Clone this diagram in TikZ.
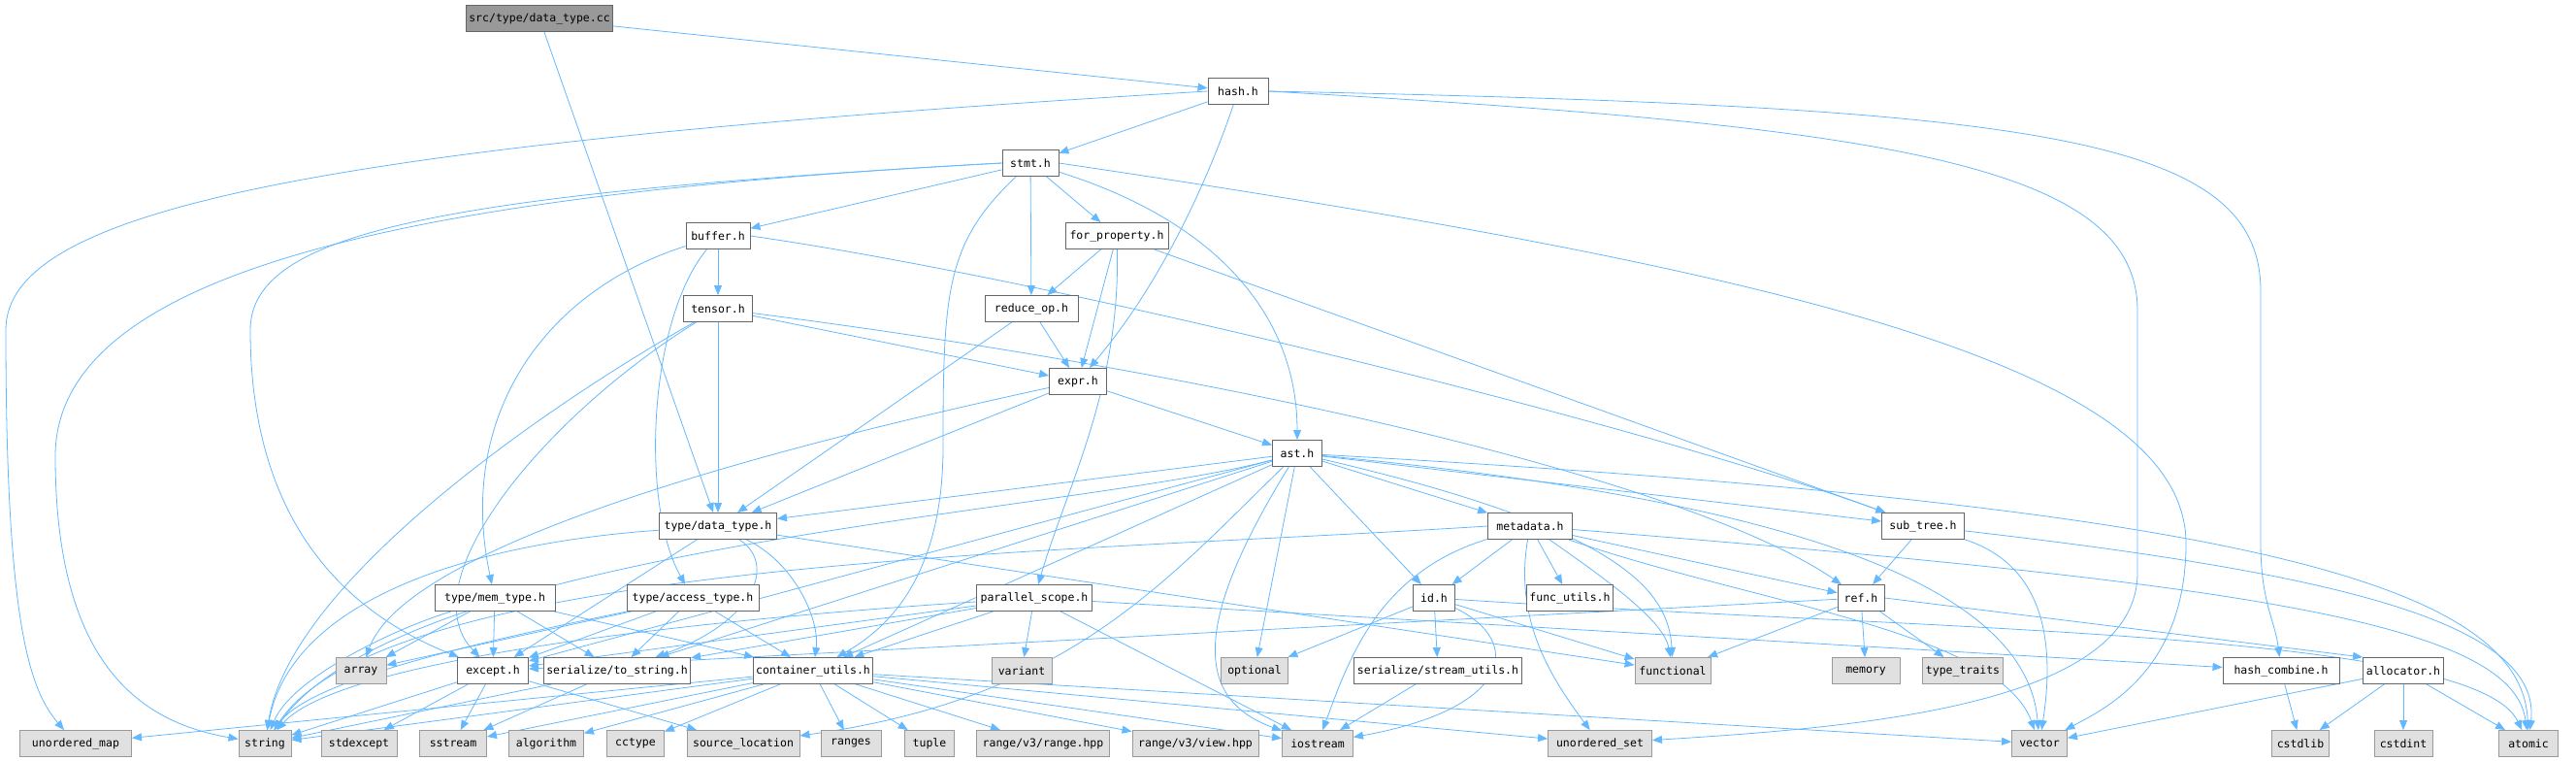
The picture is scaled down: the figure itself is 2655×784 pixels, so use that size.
\documentclass[tikz,border=0pt]{standalone}
\usepackage{fontspec}
\newfontfamily\doxfont{DejaVu Sans Mono}
\usetikzlibrary{arrows.meta, backgrounds}

\definecolor{edgeblue}{HTML}{63B8FF}
\definecolor{boxline}{HTML}{666666}
\definecolor{sysline}{HTML}{999999}
\definecolor{sysfill}{HTML}{E0E0E0}
\definecolor{rootfill}{HTML}{999999}

\tikzset{
    file/.style={draw=boxline, fill=white, line width=0.9pt, minimum height=27pt,
        inner xsep=3pt, inner ysep=0pt, font=\doxfont\fontsize{11.5}{13}\selectfont},
    sysfile/.style={file, draw=sysline, fill=sysfill},
    rootfile/.style={file, fill=rootfill},
    dep/.style={draw=edgeblue, line width=0.8pt, -{Triangle[length=10pt,width=8pt]}}
}

\begin{document}
\begin{tikzpicture}[x=1pt, y=-1pt]
    \useasboundingbox (0,0) rectangle (2655,784);
    % Project headers
    \node[rootfile, minimum width=148pt] (cc) at (556,19) {src/type/data\_type.cc};
    \node[file, minimum width=62pt] (hash) at (1276,94) {hash.h};
    \node[file, minimum width=58pt] (stmt) at (1062,168) {stmt.h};
    \node[file, minimum width=66pt] (buffer) at (740,243) {buffer.h};
    \node[file, minimum width=106pt] (forp) at (1151,243) {for\_property.h};
    \node[file, minimum width=71pt] (tensor) at (740,318) {tensor.h};
    \node[file, minimum width=96pt] (reduce) at (1063,318) {reduce\_op.h};
    \node[file, minimum width=59pt] (expr) at (1111,393) {expr.h};
    \node[file, minimum width=51pt] (ast) at (1337,467) {ast.h};
    \node[file, minimum width=121pt] (dtype) at (740,542) {type/data\_type.h};
    \node[file, minimum width=87pt] (metadata) at (1577,542) {metadata.h};
    \node[file, minimum width=85pt] (subtree) at (1982,542) {sub\_tree.h};
    \node[file, minimum width=124pt] (memtype) at (510,616) {type/mem\_type.h};
    \node[file, minimum width=136pt] (acctype) at (714,616) {type/access\_type.h};
    \node[file, minimum width=119pt] (pscope) at (1066,616) {parallel\_scope.h};
    \node[file, minimum width=43pt] (idh) at (1478,616) {id.h};
    \node[file, minimum width=89pt] (funcutils) at (1618,616) {func\_utils.h};
    \node[file, minimum width=48pt] (ref) at (1918,616) {ref.h};
    \node[file, minimum width=73pt] (except) at (508,691) {except.h};
    \node[file, minimum width=136pt] (tostring) at (636,691) {serialize/to\_string.h};
    \node[file, minimum width=119pt] (cutils) at (838,691) {container\_utils.h};
    \node[file, minimum width=158pt] (streamutils) at (1482,691) {serialize/stream\_utils.h};
    \node[file, minimum width=120pt] (hcomb) at (2351,691) {hash\_combine.h};
    \node[file, minimum width=83pt] (alloc) at (2477,691) {allocator.h};
    % System headers
    \node[sysfile, minimum width=52pt] (array) at (372,691) {array};
    \node[sysfile, minimum width=62pt] (variant) at (1053,691) {variant};
    \node[sysfile, minimum width=69pt] (optional) at (1293,691) {optional};
    \node[sysfile, minimum width=78pt] (functional) at (1724,691) {functional};
    \node[sysfile, minimum width=70pt] (memory) at (1923,691) {memory};
    \node[sysfile, minimum width=82pt] (typetraits) at (2023,691) {type\_traits};
    \node[sysfile, minimum width=115pt] (umap) at (78,766) {unordered\_map};
    \node[sysfile, minimum width=54pt] (string) at (273,766) {string};
    \node[sysfile, minimum width=78pt] (stdexcept) at (370,766) {stdexcept};
    \node[sysfile, minimum width=69pt] (sstream) at (467,766) {sstream};
    \node[sysfile, minimum width=77pt] (algorithm) at (563,766) {algorithm};
    \node[sysfile, minimum width=59pt] (cctype) at (655,766) {cctype};
    \node[sysfile, minimum width=116pt] (srcloc) at (766,766) {source\_location};
    \node[sysfile, minimum width=62pt] (ranges) at (877,766) {ranges};
    \node[sysfile, minimum width=51pt] (tuple) at (958,766) {tuple};
    \node[sysfile, minimum width=137pt] (rangehpp) at (1075,766) {range/v3/range.hpp};
    \node[sysfile, minimum width=130pt] (viewhpp) at (1232,766) {range/v3/view.hpp};
    \node[sysfile, minimum width=73pt] (iostream) at (1358,766) {iostream};
    \node[sysfile, minimum width=107pt] (uset) at (1649,766) {unordered\_set};
    \node[sysfile, minimum width=57pt] (vector) at (2102,766) {vector};
    \node[sysfile, minimum width=59pt] (cstdlib) at (2371,766) {cstdlib};
    \node[sysfile, minimum width=60pt] (cstdint) at (2477,766) {cstdint};
    \node[sysfile, minimum width=61pt] (atomic) at (2606,766) {atomic};

    \begin{scope}[on background layer]
    % Straight includes
    \foreach \s/\t in {cc/hash, cc/dtype, hash/stmt, stmt/buffer, stmt/reduce, stmt/forp,
        forp/reduce, forp/expr, forp/subtree, reduce/expr, reduce/dtype,
        buffer/tensor, tensor/dtype, tensor/expr,
        expr/ast, expr/dtype, ast/dtype, ast/except, ast/tostring, ast/cutils,
        ast/optional, ast/idh, ast/metadata, ast/subtree,
        metadata/idh, metadata/funcutils, metadata/ref, subtree/ref,
        memtype/array, memtype/except, memtype/tostring, memtype/cutils,
        acctype/array, acctype/except, acctype/tostring, acctype/cutils,
        dtype/except, dtype/functional,
        pscope/variant, pscope/iostream, pscope/cutils, pscope/except, pscope/tostring, pscope/hcomb,
        idh/optional, idh/streamutils, idh/functional, streamutils/iostream,
        ref/memory, ref/typetraits, ref/except, ref/functional,
        alloc/vector, alloc/cstdlib, alloc/cstdint, alloc/atomic, hcomb/cstdlib,
        except/string, except/stdexcept, except/sstream, except/srcloc,
        tostring/sstream, tostring/string,
        cutils/umap, cutils/string, cutils/sstream, cutils/algorithm, cutils/cctype,
        cutils/ranges, cutils/tuple, cutils/rangehpp, cutils/viewhpp, cutils/iostream,
        cutils/uset, cutils/vector}
    {
        \draw[dep] (\s) -- (\t);
    }
    \draw[dep] (ref.east) -- (alloc.north west);

    % Long arcs from hash.h
    \draw[dep] (hash.west) .. controls (300,150) and (6,220) .. (6,340) .. controls (6,640) and (30,710) .. (umap);
    \draw[dep] (hash.east) .. controls (1950,130) and (2203,170) .. (2203,320) -- (2203,590) .. controls (2203,730) and (1900,750) .. (uset);
    \draw[dep] (hash.east) .. controls (2100,110) and (2330,140) .. (2330,300) -- (2330,560) .. controls (2330,620) and (2345,640) .. (hcomb);
    \draw[dep] (hash) .. controls (1240,200) and (1190,300) .. (expr);

    % stmt.h
    \draw[dep] (stmt.west) .. controls (420,200) and (57,280) .. (57,470) .. controls (57,690) and (150,745) .. (string);
    \draw[dep] (stmt.west) .. controls (450,200) and (258,240) .. (258,340) .. controls (258,560) and (380,640) .. (except);
    \draw[dep] (stmt) .. controls (975,250) and (972,300) .. (972,460) .. controls (972,600) and (910,650) .. (cutils);
    \draw[dep] (stmt) .. controls (1260,230) and (1337,330) .. (ast);
    \draw[dep] (stmt.east) .. controls (1850,280) and (2253,380) .. (2253,560) .. controls (2253,690) and (2170,730) .. (vector);

    % for_property.h, buffer.h, tensor.h, expr.h
    \draw[dep] (forp) .. controls (1155,400) and (1100,500) .. (pscope);
    \draw[dep] (buffer.east) .. controls (1100,290) and (1700,440) .. (subtree);
    \draw[dep] (buffer) .. controls (560,300) and (470,430) .. (memtype);
    \draw[dep] (buffer) .. controls (668,330) and (660,520) .. (acctype);
    \draw[dep] (tensor) .. controls (560,420) and (300,600) .. (string);
    \draw[dep] (tensor) .. controls (560,430) and (420,600) .. (except);
    \draw[dep] (tensor) .. controls (1300,390) and (1750,500) .. (ref);
    \draw[dep] (expr) .. controls (800,460) and (420,560) .. (array);

    % ast.h
    \draw[dep] (ast) .. controls (1100,530) and (420,560) .. (string);
    \draw[dep] (ast) .. controls (1200,600) and (1100,720) .. (srcloc);
    \draw[dep] (ast) .. controls (1230,640) and (1230,720) .. (iostream);
    \draw[dep] (ast) .. controls (1650,540) and (1720,600) .. (functional);
    \draw[dep] (ast) .. controls (1900,520) and (2090,620) .. (vector);
    \draw[dep] (ast) .. controls (2300,520) and (2600,600) .. (atomic);

    % metadata.h
    \draw[dep] (metadata.west) .. controls (1100,570) and (400,575) .. (string);
    \draw[dep] (metadata) .. controls (1420,590) and (1390,680) .. (iostream);
    \draw[dep] (metadata) .. controls (1560,640) and (1600,700) .. (uset);
    \draw[dep] (metadata) .. controls (1660,600) and (1715,640) .. (functional);
    \draw[dep] (metadata) .. controls (1800,620) and (2060,650) .. (vector);
    \draw[dep] (metadata) .. controls (2300,600) and (2590,640) .. (atomic);

    % sub_tree.h, id.h
    \draw[dep] (subtree) .. controls (2100,580) and (2120,650) .. (vector);
    \draw[dep] (subtree) .. controls (2400,590) and (2620,640) .. (atomic);
    \draw[dep] (idh) .. controls (1570,660) and (1560,730) .. (iostream);
    \draw[dep] (idh) .. controls (2000,650) and (2550,650) .. (atomic);

    % type headers and parallel_scope.h into string
    \draw[dep] (dtype) .. controls (480,560) and (300,620) .. (string);
    \draw[dep] (dtype) .. controls (800,580) and (780,640) .. (tostring);
    \draw[dep] (dtype) .. controls (820,580) and (845,640) .. (cutils);
    \draw[dep] (memtype) .. controls (400,650) and (300,700) .. (string);
    \draw[dep] (acctype) .. controls (500,660) and (320,700) .. (string);
    \draw[dep] (pscope) .. controls (700,640) and (350,680) .. (string);
    \end{scope}
\end{tikzpicture}
\end{document}
